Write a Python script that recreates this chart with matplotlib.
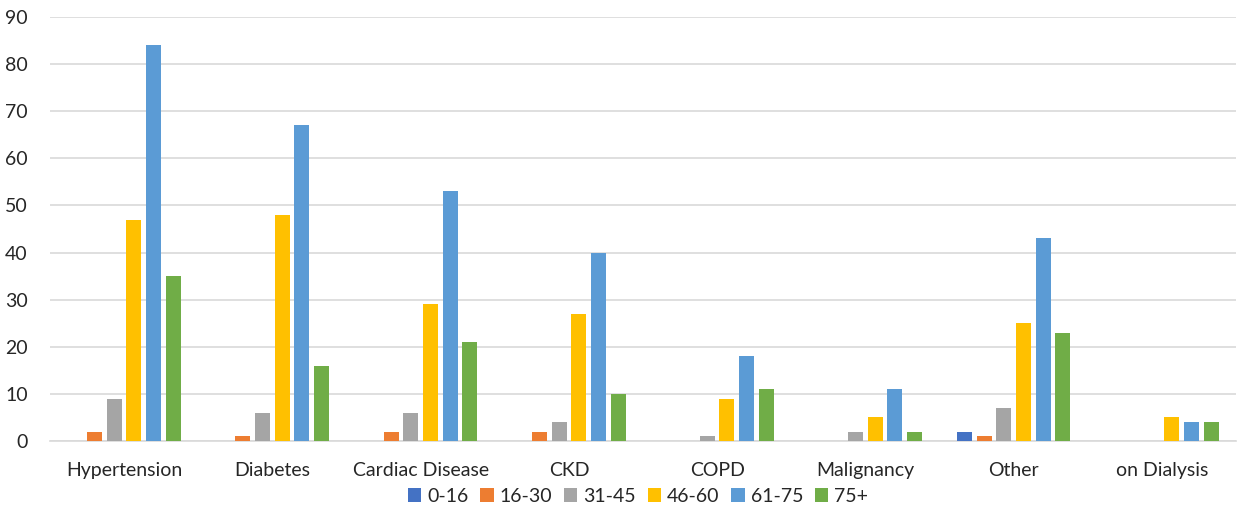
import matplotlib
matplotlib.use("Agg")
import matplotlib.pyplot as plt
import numpy as np

categories = ["Hypertension", "Diabetes", "Cardiac Disease", "CKD", "COPD",
              "Malignancy", "Other", "on Dialysis"]
series_names = ["0-16", "16-30", "31-45", "46-60", "61-75", "75+"]
v_0_16 = [0, 0, 0, 0, 0, 0, 2, 0]
v_16_30 = [2, 1, 2, 2, 0, 0, 1, 0]
v_31_45 = [9, 6, 6, 4, 1, 2, 7, 0]
v_46_60 = [47, 48, 29, 27, 9, 5, 25, 5]
v_61_75 = [84, 67, 53, 40, 18, 11, 43, 4]
v_75p = [35, 16, 21, 10, 11, 2, 23, 4]
series_values = [v_0_16, v_16_30, v_31_45, v_46_60, v_61_75, v_75p]
colors = ["#4472C4", "#ED7D31", "#A5A5A5", "#FFC000", "#5B9BD5", "#70AD47"]
yticks = [0, 10, 20, 30, 40, 50, 60, 70, 80, 90]

plt.rcParams['font.family'] = ['Lato', 'DejaVu Sans']

fig = plt.figure(figsize=(12.46, 5.11), dpi=100)
ax = fig.add_axes([50/1246, 70/511, 1186/1246, 424/511])

x = np.arange(len(categories))
slot = 0.133
bw = 0.101
for i, (name, vals, c) in enumerate(zip(series_names, series_values, colors)):
    ax.bar(x + (i - 2.5) * slot, vals, width=bw, color=c, label=name, zorder=3)

ax.set_xlim(-0.5, len(categories) - 0.5)
ax.set_ylim(0, 90)
ax.set_yticks(yticks)
ax.set_xticks(x)
ax.set_xticklabels(categories)
ax.grid(axis='y', color='#D9D9D9', linewidth=1.2, zorder=0)
for s in ['top', 'right', 'left']:
    ax.spines[s].set_visible(False)
ax.spines['bottom'].set_color('#D9D9D9')
ax.spines['bottom'].set_linewidth(1.2)
ax.tick_params(axis='both', length=0, labelsize=14, colors='#262626', labelcolor='#262626')
ax.tick_params(axis='x', pad=15)
ax.tick_params(axis='y', pad=16)

leg = fig.legend(loc='center', bbox_to_anchor=(638/1246, 1 - 496/511), ncol=6,
                 frameon=False, fontsize=14, handlelength=0.7, handleheight=0.7,
                 handletextpad=0.3, columnspacing=0.6)
for t in leg.get_texts():
    t.set_color('#262626')

fig.savefig("out.png", dpi=100)
